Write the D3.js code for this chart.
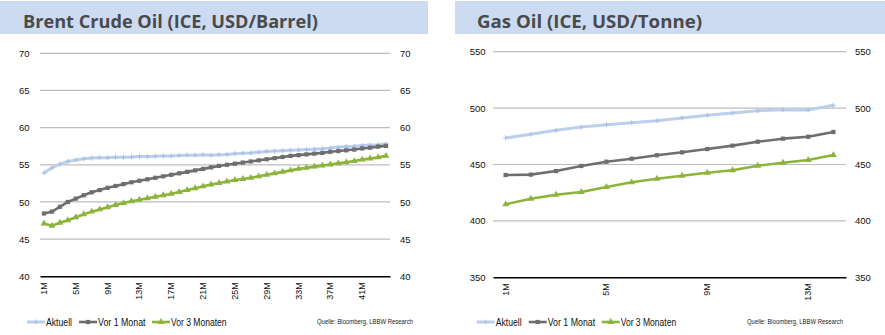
<!DOCTYPE html>
<html><head><meta charset="utf-8">
<script src="https://cdn.jsdelivr.net/npm/d3@7"></script>
<style>body{margin:0;background:#fff} svg{display:block}</style>
</head><body><svg id="c" width="885" height="335"></svg>
<script>
// ---------- DATA ----------
const brentCategories = ["1M","2M","3M","4M","5M","6M","7M","8M","9M","10M","11M","12M","13M","14M","15M","16M","17M","18M","19M","20M","21M","22M","23M","24M","25M","26M","27M","28M","29M","30M","31M","32M","33M","34M","35M","36M","37M","38M","39M","40M","41M","42M","43M","44M"];
const brentAktuell = [53.9,54.6,55.1,55.45,55.65,55.8,55.9,55.95,55.95,56.0,56.0,56.05,56.1,56.1,56.15,56.2,56.2,56.25,56.3,56.3,56.35,56.3,56.35,56.4,56.5,56.55,56.6,56.7,56.8,56.85,56.9,56.95,57.0,57.05,57.1,57.15,57.25,57.35,57.45,57.5,57.6,57.65,57.7,57.8];
const brentVor1Monat = [48.45,48.7,49.35,50.0,50.45,50.9,51.3,51.6,51.9,52.15,52.4,52.65,52.85,53.05,53.25,53.45,53.65,53.85,54.05,54.25,54.45,54.65,54.85,55.0,55.15,55.3,55.45,55.6,55.75,55.9,56.05,56.2,56.3,56.4,56.5,56.6,56.75,56.85,56.95,57.05,57.2,57.3,57.45,57.55];
const brentVor3Monaten = [47.1,46.8,47.2,47.55,47.95,48.35,48.7,49.0,49.3,49.6,49.85,50.1,50.3,50.5,50.7,50.9,51.1,51.35,51.6,51.85,52.1,52.35,52.55,52.75,52.95,53.1,53.25,53.45,53.65,53.85,54.05,54.25,54.45,54.6,54.75,54.9,55.05,55.2,55.35,55.5,55.7,55.85,56.0,56.2];
const brentYTicks = [40,45,50,55,60,65,70];
const brentXTicks = ["1M","5M","9M","13M","17M","21M","25M","29M","33M","37M","41M"];

const gasCategories = ["1M","2M","3M","4M","5M","6M","7M","8M","9M","10M","11M","12M","13M","14M"];
const gasAktuell = [473.5,476.8,480.3,483.2,485.3,487.1,488.8,491.2,493.6,495.6,497.7,498.6,498.3,502.5];
const gasVor1Monat = [440.7,441.0,444.2,448.7,452.5,455.1,458.2,460.8,463.7,466.7,470.2,472.9,474.6,478.8];
const gasVor3Monaten = [414.7,419.7,423.2,425.6,430.1,434.2,437.4,440.1,442.7,444.9,448.9,451.6,454.0,458.4];
const gasYTicks = [350,400,450,500,550];
const gasXTicks = ["1M","5M","9M","13M"];

const seriesNames = ["Aktuell","Vor 1 Monat","Vor 3 Monaten"];
const titles = ["Brent Crude Oil (ICE, USD/Barrel)","Gas Oil (ICE, USD/Tonne)"];
const sourceText = "Quelle: Bloomberg, LBBW Research";

// ---------- STYLE ----------
const colors = ["#BCCFEC","#6E6E70","#8DB43A"];
const widths = [3,2.6,2.6];
const svg = d3.select("#c");

function marker(g, type, x, y, color){
  if(type===0){
    g.append("path").attr("d",`M${x-2.5},${y}H${x+2.5}M${x},${y-2.5}V${y+2.5}`)
      .attr("stroke","#A9C0E4").attr("stroke-width",1);
  } else if(type===1){
    g.append("path").attr("d",d3.symbol(d3.symbolSquare,18)()).attr("transform",`translate(${x},${y})`).attr("fill",color);
  } else {
    g.append("path").attr("d",d3.symbol(d3.symbolTriangle,20)()).attr("transform",`translate(${x},${y})`).attr("fill",color);
  }
}

function panel(cfg){
  const g = svg.append("g");
  // title bar
  g.append("rect").attr("x",cfg.barX0).attr("y",1).attr("width",cfg.barX1-cfg.barX0).attr("height",33).attr("fill","#CCDBF2");
  g.append("text").attr("x",cfg.titleX).attr("y",27.5).text(cfg.title)
    .attr("font-family","'Open Sans', sans-serif").attr("font-weight","bold").attr("font-size",17.5)
    .attr("fill","#4A4A4A").attr("textLength",cfg.titleW).attr("lengthAdjust","spacingAndGlyphs");

  const x = d3.scaleBand().domain(cfg.categories).range([cfg.x0,cfg.x1]);
  const y = d3.scaleLinear().domain(d3.extent(cfg.yTicks)).range([cfg.yB,cfg.yT]);

  // grid
  g.selectAll(".grid").data(cfg.yTicks.slice(1)).join("line")
    .attr("x1",cfg.x0).attr("x2",cfg.x1).attr("y1",d=>y(d)).attr("y2",d=>y(d))
    .attr("stroke","#BDBDBD").attr("stroke-width",1.2);

  // y axes (left & right)
  const yl = g.append("g").attr("transform",`translate(${cfg.ylx},0)`).call(d3.axisLeft(y).tickValues(cfg.yTicks).tickSize(0).tickPadding(0));
  const yr = g.append("g").attr("transform",`translate(${cfg.yrx},0)`).call(d3.axisRight(y).tickValues(cfg.yTicks).tickSize(0).tickPadding(0));
  [yl,yr].forEach(a=>{
    a.select(".domain").remove();
    a.selectAll("text").attr("font-family","'Liberation Sans', Arial, sans-serif").attr("font-size",9.5).attr("fill","#111");
  });

  // x axis
  const xa = g.append("g").attr("transform",`translate(0,${cfg.yB})`)
    .call(d3.axisBottom(x).tickValues(cfg.xTicks).tickSize(0).tickPadding(0));
  xa.select(".domain").attr("stroke","#000").attr("stroke-width",1.5);
  xa.selectAll("text").attr("font-family","'Liberation Sans', Arial, sans-serif").attr("font-size",9).attr("fill","#111")
    .attr("text-anchor","end").attr("transform","translate(3,6) rotate(-90)").attr("dy",0).attr("y",0).attr("x",0);

  // lines
  const line = d3.line().x((d,i)=>x(cfg.categories[i])+x.bandwidth()/2).y(d=>y(d));
  cfg.series.forEach((s,k)=>{
    g.append("path").datum(s).attr("d",line).attr("fill","none")
      .attr("stroke",colors[k]).attr("stroke-width",widths[k]).attr("stroke-linejoin","round");
    const mg = g.append("g");
    s.forEach((v,i)=>marker(mg,k,x(cfg.categories[i])+x.bandwidth()/2,y(v),colors[k]));
  });

  // legend
  const lg = g.append("g");
  const items = [{lx:27,tx:46,tw:26},{lx:79,tx:98,tw:47.5},{lx:152,tx:171,tw:55.5}];
  items.forEach((it,k)=>{
    const lx = it.lx+cfg.legOff;
    lg.append("line").attr("x1",lx).attr("x2",lx+18).attr("y1",322).attr("y2",322)
      .attr("stroke",colors[k]).attr("stroke-width",widths[k]);
    marker(lg,k,lx+9,322,colors[k]);
    lg.append("text").attr("x",it.tx+cfg.legOff).attr("y",325.5).text(seriesNames[k])
      .attr("font-family","'Liberation Sans', Arial, sans-serif").attr("font-size",10).attr("fill","#111")
      .attr("textLength",it.tw).attr("lengthAdjust","spacingAndGlyphs");
  });
  lg.append("text").attr("x",cfg.srcX).attr("y",323.5).text(sourceText).attr("text-anchor","end")
    .attr("font-family","'Liberation Sans', Arial, sans-serif").attr("font-size",7).attr("fill","#222")
    .attr("textLength",96).attr("lengthAdjust","spacingAndGlyphs");
}

panel({title:titles[0],barX0:0,barX1:428,titleX:23,titleW:295,
  categories:brentCategories,series:[brentAktuell,brentVor1Monat,brentVor3Monaten],
  yTicks:brentYTicks,xTicks:brentXTicks,x0:40,x1:390,yT:53.3,yB:276.3,ylx:29.5,yrx:400,
  legOff:0,srcX:413});
panel({title:titles[1],barX0:455,barX1:885,titleX:477,titleW:225,
  categories:gasCategories,series:[gasAktuell,gasVor1Monat,gasVor3Monaten],
  yTicks:gasYTicks,xTicks:gasXTicks,x0:493,x1:846,yT:51.7,yB:277.3,ylx:485.5,yrx:855,
  legOff:449.7,srcX:843});
</script></body></html>
